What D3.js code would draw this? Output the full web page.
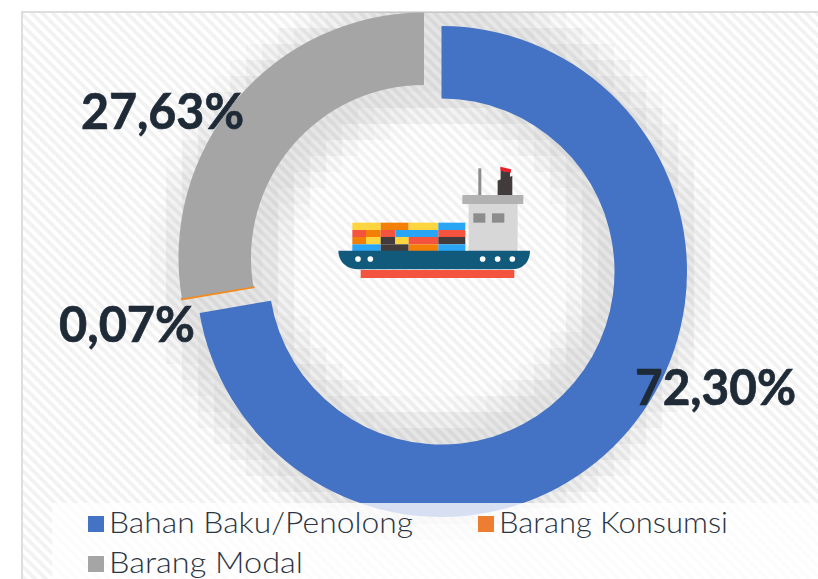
<!DOCTYPE html>
<html>
<head>
<meta charset="utf-8">
<script src="https://cdn.jsdelivr.net/npm/d3@7"></script>
<style>
  html, body { margin: 0; padding: 0; background: #fff; overflow: hidden; }
  svg { display: block; }
</style>
</head>
<body>
<script>
// values
var categories = ["Bahan Baku/Penolong", "Barang Konsumsi", "Barang Modal"];
var shares = [72.30, 0.07, 27.63];
var shareLabels = ["72,30%", "0,07%", "27,63%"];
var colors = ["#4472c4", "#ed7d31", "#a5a5a5"];

var width = 818, height = 579;
var outerR = 245.5, innerR = 173;
// blue slice is pulled out from the other two
var blueCenter = [441.5, 271.5], restCenter = [424, 258];

var svg = d3.select("body").append("svg")
  .attr("width", width)
  .attr("height", height);

// hatched panel background
var defs = svg.append("defs");
var hatch = defs.append("pattern")
  .attr("id", "hatch")
  .attr("patternUnits", "userSpaceOnUse")
  .attr("width", 7.5)
  .attr("height", 7.5)
  .attr("patternTransform", "rotate(45)");
hatch.append("rect").attr("width", 7.5).attr("height", 7.5).attr("fill", "#ffffff");
hatch.append("rect").attr("width", 7.5).attr("height", 3.7).attr("fill", "#f2f2f2");

svg.append("rect")
  .attr("x", 22).attr("y", 12)
  .attr("width", width).attr("height", height)
  .attr("fill", "url(#hatch)")
  .attr("stroke", "#dedede")
  .attr("stroke-width", 2);

// blocky shadow round the ring
var cell = 16;
var shadow = svg.append("g");
d3.range(150, 730, cell).forEach(function(x) {
  d3.range(12, 550, cell).forEach(function(y) {
    var r = Math.hypot(x + cell / 2 - 433, y + cell / 2 - 265);
    var d = r > outerR + 4 ? r - outerR - 4 : (r < innerR - 4 ? innerR - 4 - r : 0);
    var a = 0.1 * (1 - d / 34);
    if (a > 0) {
      shadow.append("rect")
        .attr("x", x).attr("y", y)
        .attr("width", cell).attr("height", cell)
        .attr("fill", "#000")
        .attr("fill-opacity", a);
    }
  });
});

// donut
var pie = d3.pie().sort(null).value(function(d) { return d; });
var arc = d3.arc().innerRadius(innerR).outerRadius(outerR);
var slices = pie(shares);

svg.append("g").selectAll("path")
  .data(slices)
  .join("path")
  .attr("d", arc)
  .attr("transform", function(d, i) {
    var c = i == 0 ? blueCenter : restCenter;
    return "translate(" + c[0] + "," + c[1] + ")";
  })
  .attr("fill", function(d, i) { return colors[i] == "#ed7d31" ? "#f28a1e" : colors[i]; })
  .attr("stroke", function(d, i) { return i == 1 ? "#f28a1e" : "none"; })
  .attr("stroke-width", 1.8);

// value labels
var labelSpots = [[635, 405, 161], [59, 342, 136], [81, 129, 163]];
svg.append("g").selectAll("text")
  .data(shareLabels)
  .join("text")
  .attr("x", function(d, i) { return labelSpots[i][0]; })
  .attr("y", function(d, i) { return labelSpots[i][1]; })
  .attr("textLength", function(d, i) { return labelSpots[i][2]; })
  .attr("lengthAdjust", "spacingAndGlyphs")
  .attr("font-family", "Lato, sans-serif")
  .attr("font-weight", 700)
  .attr("font-size", 49)
  .attr("fill", "#1f2a37")
  .attr("stroke", "#1f2a37")
  .attr("stroke-width", 0.7)
  .text(function(d) { return d; });

// ship icon, laid out on its own 3x grid
var ship = svg.append("g")
  .attr("transform", "translate(320,150) scale(0.3333)");

function box(x0, y0, x1, y1, fill) {
  ship.append("rect")
    .attr("x", x0).attr("y", y0)
    .attr("width", x1 - x0).attr("height", y1 - y0)
    .attr("fill", fill);
}

var yel = "#fdd63f", ora = "#f37f06", blu = "#29a5f5", red = "#f4533e", dar = "#423b3b";

box(97, 218, 182, 240, yel); box(182, 218, 266, 240, ora); box(266, 218, 355, 240, yel); box(355, 218, 436, 240, blu);
box(97, 240, 138, 261, red); box(138, 240, 182, 261, ora); box(182, 240, 226, 261, red); box(226, 240, 355, 261, blu); box(355, 240, 436, 261, red);
box(97, 261, 138, 283, ora); box(138, 261, 182, 283, yel); box(182, 261, 226, 283, dar); box(226, 261, 266, 283, yel); box(266, 261, 355, 283, red); box(355, 261, 436, 283, dar);
box(97, 283, 182, 303, blu); box(182, 283, 266, 303, dar); box(266, 283, 355, 303, ora); box(355, 283, 436, 303, blu);

box(446, 160, 593, 303, "#d7d7d7");
box(427, 135, 610, 162, "#b2b2b2");
box(460, 190, 496, 218, "#8c8c8c");
box(516, 190, 553, 218, "#8c8c8c");
box(475, 55, 484, 135, "#8c8c8c");
ship.append("path").attr("d", "M533,92L542,88L542,62L570,66L570,80L577,78L577,135L533,135Z").attr("fill", dar);
ship.append("path").attr("d", "M541,50L573,58L573,68L541,62Z").attr("fill", "#e8202a");
ship.append("path").attr("d", "M55,302L630,302C630,335 610,358 575,358L115,358C80,358 55,335 55,302Z").attr("fill", "#125a7c");
box(122, 360, 583, 384, red);
[114, 151, 488, 533, 577].forEach(function(x) {
  ship.append("circle").attr("cx", x).attr("cy", 327).attr("r", 8.5).attr("fill", "#fff");
});

// legend sits on a see-through white panel that covers the ring's foot
svg.append("rect")
  .attr("x", 52).attr("y", 503)
  .attr("width", width - 52).attr("height", height - 503)
  .attr("fill", "#fff")
  .attr("fill-opacity", 0.78);

var legendSpots = [[88, 533, 304], [478, 533, 229], [88, 573, 194]];
var legend = svg.append("g").selectAll("g")
  .data(categories)
  .join("g")
  .attr("transform", function(d, i) {
    return "translate(" + legendSpots[i][0] + "," + legendSpots[i][1] + ")";
  });
legend.append("rect")
  .attr("y", -17).attr("width", 16).attr("height", 16)
  .attr("fill", function(d, i) { return colors[i]; });
legend.append("text")
  .attr("x", 21)
  .attr("textLength", function(d, i) { return legendSpots[i][2]; })
  .attr("lengthAdjust", "spacingAndGlyphs")
  .attr("font-family", "Lato, sans-serif")
  .attr("font-weight", 300)
  .attr("font-size", 29)
  .attr("fill", "#2b3442")
  .text(function(d) { return d; });
</script>
</body>
</html>
